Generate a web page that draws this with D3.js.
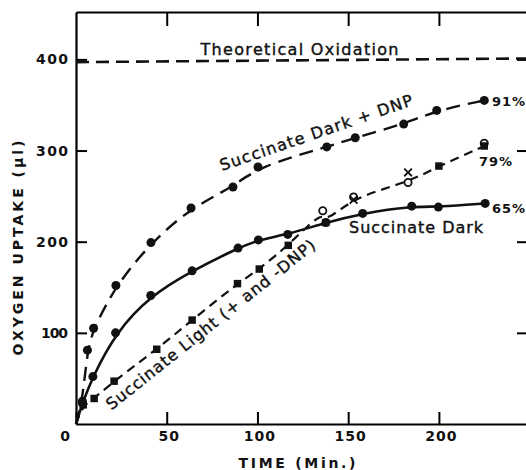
<!DOCTYPE html>
<html>
<head>
<meta charset="utf-8">
<title>Oxygen uptake</title>
<script src="https://d3js.org/d3.v7.min.js"></script>
<style>
  body { margin: 0; background: #fff; }
  svg { display: block; }
  text { font-family: "DejaVu Sans", sans-serif; fill: #111; }
</style>
</head>
<body>
<div id="chart"></div>
<script>
// time (min) and oxygen uptake (µl)
var darkDnpT = [3.5, 6.3, 9.7, 22, 41.3, 63.4, 86.5, 100.3, 138.2, 153.9, 180.6, 198.8, 225];
var darkDnpV = [25, 81, 105, 152, 199, 237, 260, 282, 304, 314, 329, 344, 355];
var darkT = [3.5, 9.3, 21.8, 41.2, 64, 89.3, 100.5, 116.7, 137.7, 158, 185, 199.7, 225.5];
var darkV = [23, 52, 100, 141, 168, 193, 202, 208, 221, 231, 239, 238, 242];
var lightMinusT = [4, 10, 21, 44.5, 64, 89, 101, 117, 137.6, 200, 225];
var lightMinusV = [21, 28, 47, 82, 114, 154, 170, 196, 221, 283, 305];
var lightPlusT = [136, 153, 183, 225];
var lightPlusV = [234, 249, 265, 308];
var lightCrossT = [153, 183];
var lightCrossV = [246, 276];
var theoT = [0, 248];
var theoV = [397, 401];
var xTicks = [0, 50, 100, 150, 200];
var yTicks = [100, 200, 300, 400];
var endLabels = ["91%", "79%", "65%"];

var W = 526, H = 470;

var x = d3.scaleLinear().domain([0, 248]).range([76, 526]);
var y = d3.scaleLinear().domain([0, 452]).range([424, 12]);

var svg = d3.select("#chart").append("svg")
    .attr("width", W)
    .attr("height", H);

function pts(ts, vs) {
    return ts.map(function(t, i) { return [t, vs[i]]; });
}

// frame + ticks (all ticks point inward)
var bottom = svg.append("g")
    .attr("transform", "translate(0," + y(0) + ")")
    .call(d3.axisBottom(x).tickValues(xTicks).tickSize(-12).tickSizeOuter(0).tickPadding(7));
bottom.selectAll("text")
    .attr("dx", function(d) { return d == 0 ? -11 : 2; })
    .style("font-size", "14px").style("font-weight", "bold").style("letter-spacing", "1px");

var left = svg.append("g")
    .attr("transform", "translate(" + x(0) + ",0)")
    .call(d3.axisLeft(y).tickValues(yTicks).tickSize(-11).tickSizeOuter(0).tickPadding(8));
left.selectAll("text")
    .attr("textLength", function(d) { return d == 100 ? 27 : 32; })
    .attr("lengthAdjust", "spacing")
    .style("font-size", "14px").style("font-weight", "bold");

svg.append("g")
    .attr("transform", "translate(0," + y(452) + ")")
    .call(d3.axisTop(x).tickValues(xTicks.slice(1)).tickSize(-14).tickSizeOuter(0).tickFormat(""));

svg.append("g")
    .attr("transform", "translate(" + (x(248) + 1) + ",0)")
    .call(d3.axisRight(y).tickValues(yTicks).tickSize(-10).tickSizeOuter(0).tickFormat(""));

svg.selectAll(".domain").attr("stroke-width", 2.2);
svg.selectAll(".tick line").attr("stroke-width", 2);

// axis titles
svg.append("text")
    .attr("x", 297).attr("y", 468)
    .attr("text-anchor", "middle")
    .attr("textLength", 117).attr("lengthAdjust", "spacing")
    .style("font-size", "14px").style("font-weight", "bold")
    .text("TIME (Min.)");

svg.append("text")
    .attr("transform", "translate(23,248) rotate(-90)")
    .attr("text-anchor", "middle")
    .attr("textLength", 215).attr("lengthAdjust", "spacing")
    .style("font-size", "14px").style("font-weight", "bold")
    .text("OXYGEN UPTAKE (μl)");

var line = d3.line()
    .x(function(d) { return x(d[0]); })
    .y(function(d) { return y(d[1]); });

// theoretical oxidation
svg.append("path")
    .datum(pts(theoT, theoV))
    .attr("fill", "none").attr("stroke", "#111")
    .attr("stroke-width", 2.6).attr("stroke-dasharray", "13,7")
    .attr("d", line);

var smooth = d3.line()
    .x(function(d) { return x(d[0]); })
    .y(function(d) { return y(d[1]); })
    .curve(d3.curveBasis);

var lightAll = pts(lightMinusT, lightMinusV).concat(pts(lightPlusT.slice(0, 3), lightPlusV.slice(0, 3)))
    .sort(function(a, b) { return a[0] - b[0]; });

svg.append("path")
    .datum([[0, 0]].concat(pts(darkDnpT, darkDnpV)))
    .attr("fill", "none").attr("stroke", "#111")
    .attr("stroke-width", 2.4).attr("stroke-dasharray", "14,8")
    .attr("d", smooth);

svg.append("path")
    .datum([[0, 0]].concat(pts(darkT, darkV)))
    .attr("fill", "none").attr("stroke", "#111")
    .attr("stroke-width", 2.6)
    .attr("d", smooth);

svg.append("path")
    .datum([[0, 0]].concat(lightAll))
    .attr("fill", "none").attr("stroke", "#111")
    .attr("stroke-width", 2.2).attr("stroke-dasharray", "9,6")
    .attr("d", smooth);

// markers
svg.append("g").selectAll("circle")
    .data(pts(darkDnpT, darkDnpV).concat(pts(darkT, darkV)))
    .enter().append("circle")
    .attr("cx", function(d) { return x(d[0]); })
    .attr("cy", function(d) { return y(d[1]); })
    .attr("r", 4.5)
    .attr("fill", "#111");

svg.append("g").selectAll("circle")
    .data(pts(lightPlusT, lightPlusV))
    .enter().append("circle")
    .attr("cx", function(d) { return x(d[0]); })
    .attr("cy", function(d) { return y(d[1]); })
    .attr("r", 3.6)
    .attr("fill", "#fff").attr("stroke", "#111").attr("stroke-width", 1.8);

svg.append("g").selectAll("path")
    .data(pts(lightMinusT, lightMinusV))
    .enter().append("path")
    .attr("transform", function(d) { return "translate(" + x(d[0]) + "," + y(d[1]) + ")"; })
    .attr("d", d3.symbol().type(d3.symbolSquare).size(56))
    .attr("fill", "#111");

svg.append("g").selectAll("path")
    .data(pts(lightCrossT, lightCrossV))
    .enter().append("path")
    .attr("transform", function(d) { return "translate(" + x(d[0]) + "," + y(d[1]) + ")"; })
    .attr("d", d3.symbol().type(d3.symbolTimes).size(40))
    .attr("fill", "none").attr("stroke", "#111").attr("stroke-width", 1.8);

// annotations
function note(txt, cx, cy, len, size, angle) {
    svg.append("text")
        .attr("transform", "translate(" + cx + "," + cy + ") rotate(" + angle + ")")
        .attr("text-anchor", "middle")
        .attr("textLength", len).attr("lengthAdjust", "spacing")
        .style("font-size", size + "px")
        .attr("stroke", "#111").attr("stroke-width", 0.4)
        .text(txt);
}
note("Theoretical Oxidation", 299.5, 55, 198, 16, 0);
note("Succinate Dark + DNP", 318, 138, 203, 16, -19);
note("Succinate Light (+ and -DNP)", 214, 329, 262, 16, -38.5);
note("Succinate Dark", 416, 233, 134, 16, 0);

var ends = [[darkDnpV[darkDnpV.length - 1], 492, 106],
            [lightMinusV[lightMinusV.length - 1], 479, 166],
            [darkV[darkV.length - 1], 492, 213]];
svg.append("g").selectAll("text")
    .data(ends)
    .enter().append("text")
    .attr("x", function(d) { return d[1]; })
    .attr("y", function(d) { return d[2]; })
    .attr("textLength", 33).attr("lengthAdjust", "spacing")
    .style("font-size", "13px").style("font-weight", "bold")
    .text(function(d, i) { return endLabels[i]; });
</script>
</body>
</html>
